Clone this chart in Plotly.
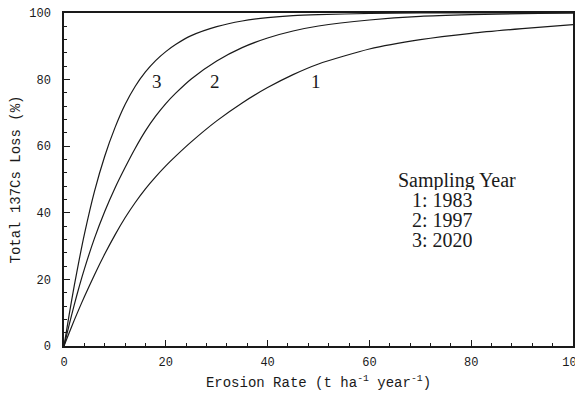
import plotly.graph_objects as go

# Erosion rate (t ha-1 year-1)
erosion_rate = [0, 1, 2, 3, 4, 6, 8, 10, 12, 14, 16, 18, 20, 22, 25, 30, 35, 40, 45, 50, 60, 70, 80, 90, 100]

# Total 137Cs loss (%) for each sampling year
loss_1983 = [0, 3.9, 7.7, 11.3, 14.8, 21.4, 27.6, 33.3, 38.5, 43.1, 47.2, 50.8, 54.1, 57.1, 61.3, 67.6, 73.0, 77.6, 81.5, 84.7, 89.2, 92.0, 93.9, 95.3, 96.5]
loss_1997 = [0, 6.3, 12.3, 17.9, 23.1, 32.4, 40.4, 47.4, 53.6, 59.4, 64.6, 69.0, 72.8, 76.0, 80.2, 85.6, 89.6, 92.5, 94.6, 96.1, 97.9, 99.0, 99.5, 99.8, 100]
loss_2020 = [0, 9.3, 18, 26, 33.5, 46.5, 57, 65.5, 72.5, 78, 82.3, 85.7, 88.4, 90.6, 93.2, 95.9, 97.6, 98.6, 99.2, 99.5, 99.85, 100, 100, 100, 100]

curve_labels = ["1", "2", "3"]
curve_label_x = [49.6, 29.7, 18.3]
curve_label_y = [79.3, 79.3, 79.3]

legend_title = "Sampling Year"
legend_lines = ["1: 1983", "2: 1997", "3: 2020"]

x_ticks = [0, 20, 40, 60, 80, 100]
y_ticks = [0, 20, 40, 60, 80, 100]

mono = "Liberation Mono, Courier New, monospace"
serif = "Liberation Serif, Times New Roman, serif"
ink = "#1a1a1a"

fig = go.Figure()
for ys in (loss_1983, loss_1997, loss_2020):
    fig.add_trace(go.Scatter(x=erosion_rate, y=ys, mode="lines",
                             line=dict(color=ink, width=1.2, shape="spline", smoothing=0.6),
                             showlegend=False, hoverinfo="skip"))

for t, xx, yy in zip(curve_labels, curve_label_x, curve_label_y):
    fig.add_annotation(x=xx, y=yy, text=t, showarrow=False,
                       font=dict(family=serif, size=19, color=ink))

fig.add_annotation(x=65.2, y=49.8, text=legend_title, showarrow=False, xanchor="left",
                   height=20, font=dict(family=serif, size=20, color=ink))
for i, t in enumerate(legend_lines):
    fig.add_annotation(x=68.0, y=43.7 - 6.0 * i, text=t, showarrow=False, xanchor="left",
                       height=20, font=dict(family=serif, size=20, color=ink))

axis_common = dict(
    showgrid=False, zeroline=False, showline=True, linecolor=ink, linewidth=1.5,
    mirror=True, ticks="inside", ticklen=6, tickwidth=1.2, tickcolor=ink,
    tickfont=dict(family=mono, size=12, color=ink), automargin=False,
    ticklabeloverflow="allow",
    minor=dict(dtick=4, ticks="inside", ticklen=3, tickwidth=1, tickcolor=ink),
)

fig.update_xaxes(range=[0, 100], tickvals=x_ticks, ticklabelstandoff=4,
                 title=dict(text="Erosion Rate (t ha<sup>-1</sup> year<sup>-1</sup>)",
                            font=dict(family=mono, size=14, color=ink), standoff=8),
                 **axis_common)
fig.update_yaxes(range=[0, 100], tickvals=y_ticks, ticklabelstandoff=9,
                 title=dict(text="Total 137Cs Loss (%)",
                            font=dict(family=mono, size=14, color=ink), standoff=12),
                 **axis_common)

# page body has an 8px margin, so the figure is sized and offset to compensate
fig.update_layout(width=575, height=394, plot_bgcolor="white", paper_bgcolor="white",
                  margin=dict(l=56, r=10, t=5, b=56))

fig.write_html("out.html")
